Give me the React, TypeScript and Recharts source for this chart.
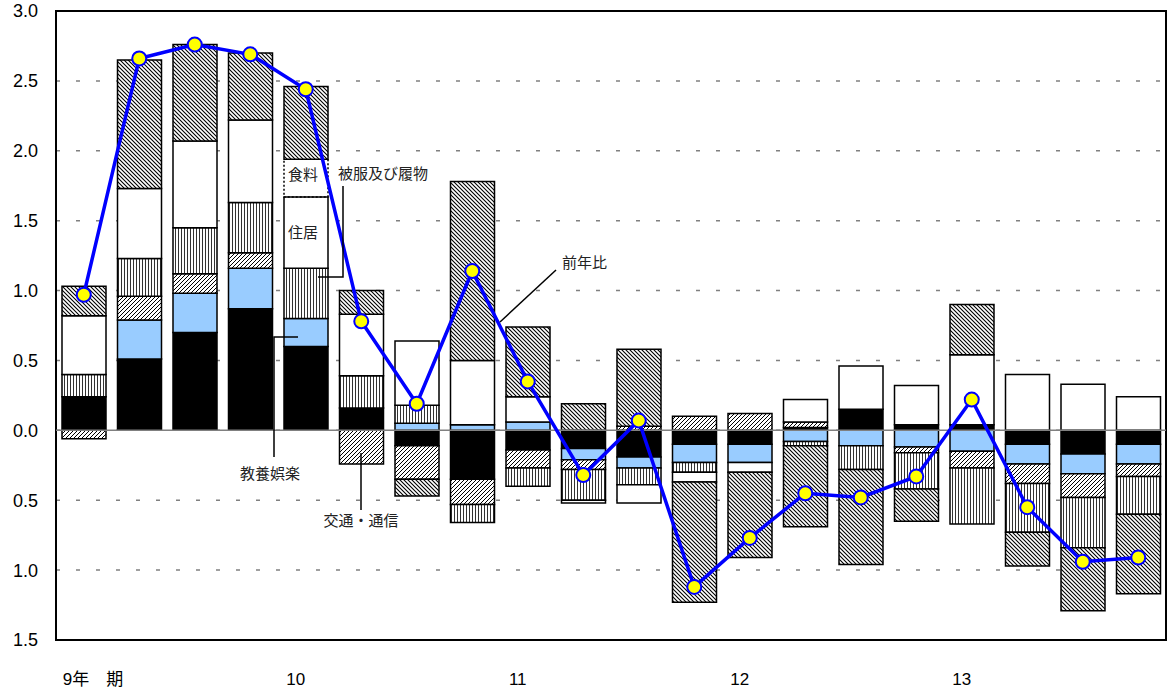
import { ComposedChart, Bar, Line, XAxis, YAxis, CartesianGrid, ReferenceLine, ReferenceArea } from 'recharts'

// 四半期（9年Ⅰ期〜13年Ⅳ期）
const quarters = ['9年　期', '', '', '', '10', '', '', '', '11', '', '', '', '12', '', '', '', '13', '', '', '']

// 寄与度（％ポイント）
const kounetsu = [0.24, 0.51, 0.7, 0.87, 0.6, 0.16, -0.11, -0.35, -0.14, -0.13, -0.19, -0.1, -0.1, 0.02, 0.15, 0.04, 0.04, -0.1, -0.17, -0.1]
const kyouyou = [0, 0.28, 0.28, 0.29, 0.2, 0, 0.05, 0.04, 0.06, -0.08, -0.08, -0.13, -0.13, -0.08, -0.11, -0.12, -0.15, -0.14, -0.14, -0.14]
const koutsuu = [-0.06, 0.17, 0.14, 0.11, 0, -0.24, -0.24, -0.18, -0.13, -0.07, 0.03, 0.1, 0.12, 0.04, 0, -0.04, -0.12, -0.14, -0.17, -0.09]
const hifuku = [0.16, 0.27, 0.33, 0.36, 0.36, 0.23, 0.13, -0.13, -0.13, -0.22, -0.12, -0.07, 0, -0.03, -0.17, -0.26, -0.4, -0.35, -0.36, -0.27]
const jukyo = [0.42, 0.5, 0.62, 0.59, 0.51, 0.44, 0.46, 0.46, 0.18, -0.02, -0.13, -0.07, -0.07, 0.16, 0.31, 0.28, 0.5, 0.4, 0.33, 0.24]
const shokuryo = [0, 0, 0, 0, 0.27, 0, 0, 0, 0, 0, 0, 0, 0, 0, 0, 0, 0, 0, 0, 0]
const sonota = [0.21, 0.92, 0.69, 0.48, 0.52, 0.17, -0.12, 1.28, 0.5, 0.19, 0.55, -0.86, -0.61, -0.58, -0.68, -0.23, 0.36, -0.24, -0.45, -0.57]

// 前年比（％）
const zennenhi = [0.97, 2.66, 2.76, 2.69, 2.44, 0.78, 0.19, 1.14, 0.35, -0.32, 0.07, -1.12, -0.77, -0.45, -0.48, -0.33, 0.22, -0.55, -0.94, -0.91]

const yTicks = [-1.5, -1, -0.5, 0, 0.5, 1, 1.5, 2, 2.5, 3]

const data = quarters.map((q, i) => ({
  q,
  kounetsu: kounetsu[i],
  kyouyou: kyouyou[i],
  koutsuu: koutsuu[i],
  hifuku: hifuku[i],
  jukyo: jukyo[i],
  shokuryo: shokuryo[i],
  sonota: sonota[i],
  zennenhi: zennenhi[i],
}))

const series = [
  { key: 'kounetsu', name: '光熱・水道', fill: '#000000' },
  { key: 'kyouyou', name: '教養娯楽', fill: '#99CCFF' },
  { key: 'koutsuu', name: '交通・通信', fill: 'url(#fwd)' },
  { key: 'hifuku', name: '被服及び履物', fill: 'url(#vert)' },
  { key: 'jukyo', name: '住居', fill: '#ffffff' },
  { key: 'shokuryo', name: '食料', fill: 'none', dash: '2 2' },
  { key: 'sonota', name: 'その他', fill: 'url(#back)' },
]

const FONT = '"Liberation Sans", Arial, "Noto Sans CJK JP", sans-serif'
const JP = '"Noto Sans CJK JP", "Liberation Sans", sans-serif'

function XTick(props: any) {
  const { x, y, payload, index } = props
  if (!payload.value) return null
  const first = index === 0
  return (
    <text x={first ? x - 21 : x - 10} y={y + 31} dy="0.35em" textAnchor={first ? 'start' : 'middle'}
      fontSize={17} fontFamily={FONT} fill="#000">
      {payload.value}
    </text>
  )
}

export default function App() {
  return (
    <div style={{ position: 'absolute', left: 0, top: 0, width: 1171, height: 688, background: '#fff' }}>
      <ComposedChart width={1171} height={688} data={data} stackOffset="sign" barSize={44}
        margin={{ top: 11, right: 5, bottom: 0, left: 0 }}>
        <defs>
          <pattern id="back" patternUnits="userSpaceOnUse" width="4" height="4">
            <rect width="4" height="4" fill="#fff" />
            <path d="M-1,-1 L5,5 M-1,3 L1,5 M3,-1 L5,1" stroke="#000" strokeWidth="1.1" />
          </pattern>
          <pattern id="fwd" patternUnits="userSpaceOnUse" width="4" height="4">
            <rect width="4" height="4" fill="#fff" />
            <path d="M-1,5 L5,-1 M-1,1 L1,-1 M3,5 L5,3" stroke="#000" strokeWidth="1" />
          </pattern>
          <pattern id="vert" patternUnits="userSpaceOnUse" width="3" height="3">
            <rect width="3" height="3" fill="#fff" />
            <rect x="1" width="1" height="3" fill="#333" />
          </pattern>
        </defs>
        <CartesianGrid horizontal vertical={false} stroke="#808080" strokeDasharray="4 16" strokeWidth={1.5} />
        <XAxis dataKey="q" interval={0} tick={<XTick />} tickLine={false} axisLine={false} height={48} />
        <YAxis domain={[-1.5, 3]} ticks={yTicks} allowDataOverflow width={56} tickLine={false} axisLine={false}
          tickSize={0} tickMargin={18}
          tick={{ fontSize: 18, fontFamily: FONT, fill: '#000' }}
          tickFormatter={(v: number) => Math.abs(v).toFixed(1)} />
        <ReferenceLine y={0} stroke="#808080" strokeWidth={1.5} />
        {series.map((s) => (
          <Bar key={s.key} dataKey={s.key} name={s.name} stackId="a" fill={s.fill} stroke="#000"
            strokeWidth={1.5} strokeDasharray={s.dash} isAnimationActive={false} />
        ))}
        <ReferenceArea y1={-1.5} y2={3} fill="none" fillOpacity={0} stroke="#000" strokeWidth={2} />
        <Line dataKey="zennenhi" name="前年比" stroke="#0000FF" strokeWidth={3.5} isAnimationActive={false}
          dot={{ r: 7, fill: '#FFFF00', stroke: '#0000FF', strokeWidth: 2 }} />
      </ComposedChart>

      {/* 注記 */}
      <svg width={1171} height={688} style={{ position: 'absolute', left: 0, top: 0, pointerEvents: 'none' }}>
        <g stroke="#000" strokeWidth={1.5} fill="none">
          <polyline points="318,277 343,277 343,186" />
          <polyline points="298,337 274,337 274,457" />
          <line x1={361} y1={453} x2={361} y2={510} />
          <line x1={500} y1={322} x2={556} y2={270} />
        </g>
        <g fontFamily={JP} fontSize={15} fill="#222">
          <text x={303} y={175} dy="0.35em" textAnchor="middle">食料</text>
          <text x={303} y={233} dy="0.35em" textAnchor="middle">住居</text>
          <text x={338} y={174} dy="0.35em">被服及び履物</text>
          <text x={270} y={474} dy="0.35em" textAnchor="middle">教養娯楽</text>
          <text x={361} y={521} dy="0.35em" textAnchor="middle">交通・通信</text>
          <text x={562} y={263} dy="0.35em">前年比</text>
        </g>
      </svg>
    </div>
  )
}
